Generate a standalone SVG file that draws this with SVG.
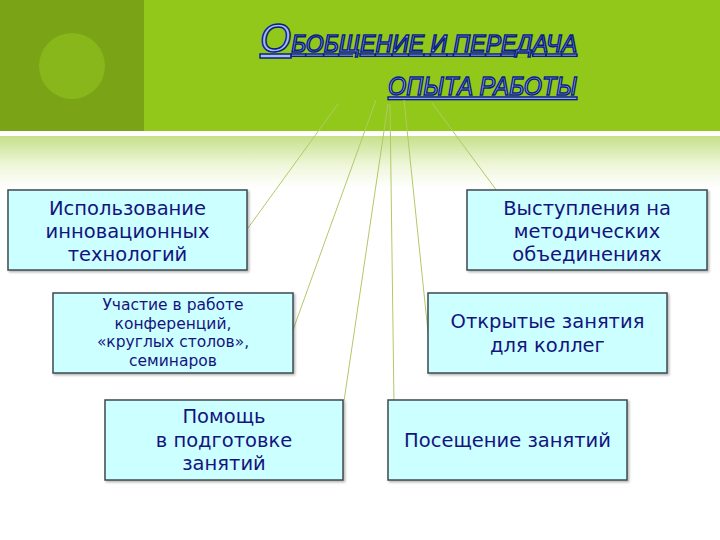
<svg xmlns="http://www.w3.org/2000/svg" width="720" height="540" viewBox="0 0 720 540">
  <defs>
    <linearGradient id="fade" x1="0" y1="0" x2="0" y2="1">
      <stop offset="0" stop-color="#c6e08a"/>
      <stop offset="0.55" stop-color="#eef6d8"/>
      <stop offset="1" stop-color="#ffffff"/>
    </linearGradient>
    <filter id="sh" x="-5%" y="-5%" width="115%" height="120%">
      <feDropShadow dx="1.5" dy="1.5" stdDeviation="1" flood-color="#000" flood-opacity="0.3"/>
    </filter>
  </defs>
  <style>
    .box { fill: #ccffff; stroke: #3c4a50; stroke-width: 1.5; }
    .lbl { font-family: "DejaVu Sans", Verdana, sans-serif; fill: #14147e; text-anchor: middle; }
    .big { font-size: 19.5px; }
    .small { font-size: 15.5px; }
    .title { font-family: "Liberation Sans", Arial, sans-serif; font-style: italic; fill: #a9bcf2; stroke: #0a1e88; stroke-width: 1.5; text-decoration: underline; }
    .conn line { stroke: #b2c86a; stroke-width: 1; }
  </style>

  <!-- background -->
  <rect x="0" y="0" width="720" height="540" fill="#ffffff"/>
  <rect x="0" y="0" width="720" height="131" fill="#92c81a"/>
  <rect x="0" y="0" width="144" height="131" fill="#7aa315"/>
  <circle cx="72" cy="66" r="33" fill="#87b71b"/>
  <rect x="0" y="136" width="720" height="52" fill="url(#fade)"/>

  <!-- title -->
  <g id="title">
    <text class="title" x="260" y="52" textLength="317" lengthAdjust="spacing"><tspan font-size="40">О</tspan><tspan font-size="23">БОБЩЕНИЕ И ПЕРЕДАЧА</tspan></text>
    <text class="title" x="388" y="95" font-size="26" textLength="189" lengthAdjust="spacingAndGlyphs">ОПЫТА РАБОТЫ</text>
  </g>

  <!-- connectors -->
  <g id="connectors" class="conn">
    <line x1="338" y1="104" x2="248" y2="228"/>
    <line x1="376" y1="100" x2="293" y2="330"/>
    <line x1="388" y1="104" x2="344" y2="401"/>
    <line x1="390" y1="104" x2="394" y2="404"/>
    <line x1="404" y1="100" x2="428" y2="332"/>
    <line x1="432" y1="103" x2="500" y2="195"/>
  </g>

  <g id="n1">
    <rect class="box" x="8" y="190" width="239" height="80" filter="url(#sh)"/>
    <text class="lbl big" x="127.5" y="215">Использование</text>
    <text class="lbl big" x="127.5" y="238">инновационных</text>
    <text class="lbl big" x="127.5" y="261">технологий</text>
  </g>

  <g id="n2">
    <rect class="box" x="53" y="293" width="240" height="80" filter="url(#sh)"/>
    <text class="lbl small" x="173" y="310">Участие в работе</text>
    <text class="lbl small" x="173" y="329">конференций,</text>
    <text class="lbl small" x="173" y="347">«круглых столов»,</text>
    <text class="lbl small" x="173" y="366">семинаров</text>
  </g>

  <g id="n3">
    <rect class="box" x="105" y="400" width="238" height="80" filter="url(#sh)"/>
    <text class="lbl big" x="224" y="423">Помощь</text>
    <text class="lbl big" x="224" y="447">в подготовке</text>
    <text class="lbl big" x="224" y="470">занятий</text>
  </g>

  <g id="n4">
    <rect class="box" x="388" y="400" width="239" height="80" filter="url(#sh)"/>
    <text class="lbl big" x="507.5" y="447">Посещение занятий</text>
  </g>

  <g id="n5">
    <rect class="box" x="428" y="293" width="239" height="80" filter="url(#sh)"/>
    <text class="lbl big" x="547.5" y="328">Открытые занятия</text>
    <text class="lbl big" x="547.5" y="352">для коллег</text>
  </g>

  <g id="n6">
    <rect class="box" x="467" y="190" width="240" height="80" filter="url(#sh)"/>
    <text class="lbl big" x="587" y="215">Выступления на</text>
    <text class="lbl big" x="587" y="238">методических</text>
    <text class="lbl big" x="587" y="261">объединениях</text>
  </g>
</svg>
